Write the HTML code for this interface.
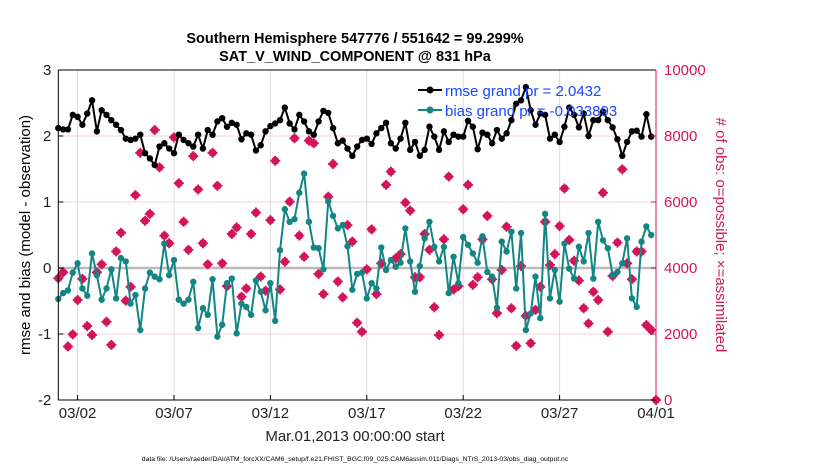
<!DOCTYPE html>
<html><head><meta charset="utf-8"><style>
body{margin:0;background:#fff;}
svg{display:block;font-family:"Liberation Sans",sans-serif;}
</style></head><body>
<svg id="chart" width="830" height="470">
<g id="grid"></g>
<g id="marks"></g>
<g id="axes"></g>
<text x="355" y="43" text-anchor="middle" font-size="14.5" font-weight="bold">Southern Hemisphere 547776 / 551642 = 99.299%</text>
<text x="355" y="61" text-anchor="middle" font-size="14.5" font-weight="bold">SAT_V_WIND_COMPONENT @ 831 hPa</text>
<text transform="translate(30,235) rotate(-90)" text-anchor="middle" font-size="15">rmse and bias (model - observation)</text>
<text transform="translate(716,235) rotate(90)" text-anchor="middle" font-size="15" fill="#cc1a5e"># of obs: o=possible; ×=assimilated</text>
<text x="355" y="441" text-anchor="middle" font-size="15" fill="#222">Mar.01,2013 00:00:00 start</text>
<text x="355" y="461" text-anchor="middle" font-size="6.8">data file: /Users/raeder/DAI/ATM_forcXX/CAM6_setup/f.e21.FHIST_BGC.f09_025.CAM6assim.011/Diags_NTrS_2013-03/obs_diag_output.nc</text>
<g>
<g>
<line x1="418" y1="90" x2="442" y2="90" stroke="#000" stroke-width="2"/><circle cx="430" cy="90" r="3.5" fill="#000"/>
<text x="445" y="96" font-size="15" fill="#1749ff">rmse grand pr = 2.0432</text></g>
<g>
<line x1="418" y1="110" x2="442" y2="110" stroke="#138585" stroke-width="2"/><circle cx="430" cy="110" r="3.5" fill="#138585"/>
<text x="445" y="116" font-size="15" fill="#1749ff">bias grand pr = -0.033893</text></g>
</g>
</svg>
<script>
const rmse=[2.12,2.10,2.10,2.32,2.29,2.17,2.34,2.54,2.07,2.39,2.32,2.24,2.17,2.09,1.96,1.94,1.96,2.02,1.74,1.66,1.56,1.84,1.89,1.81,1.74,2.02,1.94,1.89,1.84,2.02,1.81,2.09,
2.02,2.22,2.27,2.14,2.20,2.17,1.95,2.04,2.02,1.78,1.86,2.07,2.15,2.19,2.24,2.43,2.19,2.10,2.32,2.22,2.07,2.02,2.22,2.38,2.35,2.12,1.89,1.93,1.81,1.70,1.84,
1.94,1.96,1.88,2.04,2.12,2.20,1.89,1.81,1.96,2.20,1.79,1.91,1.70,1.79,2.14,1.99,1.79,2.07,1.91,2.02,1.99,1.99,2.23,2.14,1.80,2.05,2.02,1.89,2.09,1.96,2.04,
2.24,2.49,2.54,2.74,2.39,2.17,2.34,2.32,1.96,2.02,1.91,2.14,2.43,2.32,2.13,2.34,2.00,2.24,2.24,2.37,2.24,2.13,1.95,1.70,1.91,2.07,2.08,1.99,2.33,1.99];
const bias=[-0.47,-0.38,-0.34,-0.07,0.07,-0.31,-0.42,0.22,-0.11,-0.48,-0.31,-0.02,-0.46,0.15,0.10,-0.54,-0.41,-0.94,-0.31,-0.07,-0.13,-0.17,0.37,-0.11,0.12,-0.48,-0.54,-0.48,-0.21,-0.91,-0.61,-0.71,
-0.17,-1.04,-0.86,-0.23,-0.16,-0.99,-0.54,-0.59,-0.71,-0.19,-0.36,-0.64,-0.23,-0.80,0.27,0.89,0.70,0.74,1.14,1.43,0.70,0.31,0.30,-0.02,1.01,0.79,0.60,0.65,0.33,-0.33,-0.09,
-0.07,-0.46,-0.23,-0.31,0.31,-0.03,0.12,0.02,0.08,0.60,0.10,-0.36,0.03,0.45,0.70,0.32,0.10,0.32,-0.38,0.17,-0.23,0.47,0.35,0.22,0.08,0.48,-0.06,-0.13,-0.60,0.40,0.25,
0.55,-0.31,0.53,-0.94,-0.69,-0.13,-0.76,0.82,-0.46,-0.03,-0.51,0.37,-0.01,-0.16,0.32,0.10,0.53,-0.16,0.70,0.42,0.30,-0.11,-0.06,0.07,0.45,-0.46,-0.59,0.40,0.63,0.50];
const nobs=[3690,3870,1620,1990,3030,3670,2240,1970,3870,4110,2370,1670,4500,5070,3010,3430,6210,7490,5430,5640,8180,7050,4980,4750,7960,6570,5400,4550,7390,6380,4750,4110,
7490,6490,4140,3450,5030,5230,3130,3380,5030,5680,3740,3310,5450,7250,3350,4190,6010,7930,4980,4340,7860,7780,3820,3210,6160,7150,3590,3110,5300,4800,2340,
2070,3960,5170,3210,4140,6520,6920,4290,4420,5980,5740,3720,3720,5030,4550,2810,1970,4870,6770,3350,3450,5780,6520,3490,3720,4870,5580,3660,2630,3940,5250,
2780,1640,4060,2550,1720,2730,3430,5400,4090,4420,5270,6410,4850,4220,3620,2780,2320,3280,3030,6280,2070,3760,4770,6990,4140,3660,4500,4500,2270,2120,0];
const yTicks=[3,2,1,0,-1,-2];
const rTicks=[10000,8000,6000,4000,2000,0];
const xTickDays=[1,6,11,16,21,26,31];
const xTickLabels=["03/02","03/07","03/12","03/17","03/22","03/27","04/01"];

const X0=58.3,X1=656,Y0=70,Y1=400;
const xs=d=>X0+(X1-X0)*d/31;
const ys=v=>Y0+(3-v)*(Y1-Y0)/5;
const yr=v=>Y1-v*(Y1-Y0)/10000;
const NS="http://www.w3.org/2000/svg";
function mk(tag,attrs,parent){const e=document.createElementNS(NS,tag);for(const k in attrs)e.setAttribute(k,attrs[k]);parent.appendChild(e);return e;}
const grid=document.getElementById('grid'),marks=document.getElementById('marks'),axes=document.getElementById('axes');
const PINK="#d4145a",TEAL="#138585";

xTickDays.forEach((d,i)=>{
  const g=mk('line',{x1:xs(d),x2:xs(d),y1:Y0,y2:Y1,stroke:'#dcdcdc','stroke-width':1},grid);
  
  
  const t=mk('line',{x1:xs(d),x2:xs(d),y1:Y1,y2:Y1-5,stroke:'#000'},axes);
  
  
  const l=mk('text',{x:xs(d),y:Y1+18,'text-anchor':'middle','font-size':15,fill:'#222'},axes);
  l.textContent=xTickLabels[i];
  
  
});
rTicks.forEach(v=>{
  const g=mk('line',{x1:X0,x2:X1,y1:yr(v),y2:yr(v),stroke:'#f3d3df','stroke-width':1},grid);
  
  
  const l=mk('text',{x:X1+8,y:yr(v)+5,'font-size':15,fill:PINK},axes);
  l.textContent=v;
  
  
  const t=mk('line',{x1:X1,x2:X1-5,y1:yr(v),y2:yr(v),stroke:PINK},axes);
  
  
});
yTicks.forEach(v=>{
  const l=mk('text',{x:X0-7,y:ys(v)+5,'text-anchor':'end','font-size':15,fill:'#222'},axes);
  l.textContent=v;
  
  
  const t=mk('line',{x1:X0,x2:X0+5,y1:ys(v),y2:ys(v),stroke:'#000'},axes);
  
  
});
const zl=mk('line',{x1:X0,x2:X1,y1:ys(0),y2:ys(0),stroke:'#bbb','stroke-width':2.5},grid);



nobs.forEach((v,i)=>{
  const x=xs(i/4),y=yr(v);
  const g=mk('g',{},marks);
  
  
  mk('circle',{cx:x,cy:y,r:4,fill:PINK},g);
  mk('path',{d:`M${x-5} ${y}H${x+5}M${x} ${y-5}V${y+5}`,stroke:PINK,'stroke-width':1.8},g);
});
function series(arr,color,name){
  const pts=arr.map((v,i)=>xs(i/4).toFixed(2)+','+ys(v).toFixed(2)).join(' ');
  const pl=mk('polyline',{points:pts,fill:'none',stroke:color,'stroke-width':2},marks);
  
  
  arr.forEach((v,i)=>{
    const c=mk('circle',{cx:xs(i/4),cy:ys(v),r:3.2,fill:color},marks);
    
    
  });
}
series(bias,TEAL,'bias');
series(rmse,'#000','rmse');

const frame=[[X0,Y0,X1,Y0,'#000'],[X0,Y0,X0,Y1,'#000'],[X0,Y1,X1,Y1,'#000'],[X1,Y0,X1,Y1,PINK]];
frame.forEach(f=>{
  const l=mk('line',{x1:f[0],y1:f[1],x2:f[2],y2:f[3],stroke:f[4],'stroke-width':1},axes);
  
  
});
</script>
</body></html>
